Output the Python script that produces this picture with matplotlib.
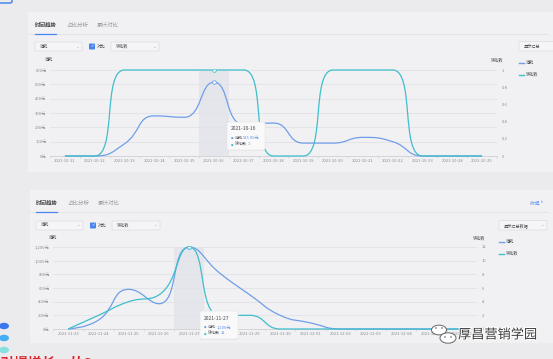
import numpy as np
import matplotlib
matplotlib.use('AGG')
import matplotlib.pyplot as plt
from matplotlib.path import Path
from matplotlib.patches import PathPatch, Rectangle, FancyBboxPatch, Circle
import matplotlib.patheffects as pe

plt.rcParams['font.family'] = ['Noto Sans CJK SC', 'DejaVu Sans']

W, H = 553, 359

# top chart data
dates_top = ['2021-10-11', '2021-10-12', '2021-10-13', '2021-10-14', '2021-10-15',
             '2021-10-16', '2021-10-17', '2021-10-18', '2021-10-19', '2021-10-20',
             '2021-10-21', '2021-10-22', '2021-10-23', '2021-10-24', '2021-10-25']
cost_top = [0, 0, 85, 280, 270, 515.05, 220, 230, 90, 90, 130, 100, 0, 0, 0]
conv_top = [0, 0, 1, 1, 1, 1, 1, 0, 0, 1, 1, 1, 0, 0, 0]
left_ticks_top = [0, 100, 200, 300, 400, 500, 600]
left_labels_top = ['0元', '100元', '200元', '300元', '400元', '500元', '600元']
right_ticks_top = [0, 0.2, 0.4, 0.6, 0.8, 1]
right_labels_top = ['0', '0.2', '0.4', '0.6', '0.8', '1']

# bottom chart data
dates_bot = ['2021-11-23', '2021-11-24', '2021-11-25', '2021-11-26', '2021-11-27',
             '2021-11-28', '2021-11-29', '2021-11-30', '2021-12-01', '2021-12-02',
             '2021-12-03', '2021-12-04', '2021-12-05', '2021-12-06']
cost_bot = [0, 130, 580, 370, 1200, 820, 500, 200, 90, 0, 0, 0, 0, 0]
conv_bot = [0, 2, 4, 5, 12, 2, 2, 0, 0, 0, 0, 0, 0, 0]
left_ticks_bot = [0, 200, 400, 600, 800, 1000, 1200]
left_labels_bot = ['0元', '200元', '400元', '600元', '800元', '1,000元', '1,200元']
right_ticks_bot = [0, 2, 4, 6, 8, 10, 12]
right_labels_bot = ['0', '2', '4', '6', '8', '10', '12']

BLUE = '#6f9ee9'
CYAN = '#3fbecb'
GREY = '#8a8c92'
DARK = '#4a4c52'


def fx(x):
    return x / W


def fy(y):
    return 1 - y / H


def ftext(x, y, s, **kw):
    kw.setdefault('fontsize', 3.4)
    kw.setdefault('color', GREY)
    kw.setdefault('va', 'center')
    fig.text(fx(x), fy(y), s, **kw)


def smooth_line(ax, xs, ys, color, smooth=0.5):
    # echarts style bezier smoothing, done in pixel space
    tr = ax.transData
    pts = tr.transform(np.column_stack([xs, ys]))
    n = len(pts)
    verts = [pts[0]]
    codes = [Path.MOVETO]
    cp0 = pts[0].copy()
    for k in range(1, n):
        x, y = pts[k]
        px, py = pts[k - 1]
        if k == n - 1:
            cp1 = np.array([x, y])
            nxt = None
        else:
            nx_, ny_ = pts[k + 1]
            vx, vy = nx_ - px, ny_ - py
            lp = np.hypot(x - px, y - py)
            ln = np.hypot(nx_ - x, ny_ - y)
            r = ln / (ln + lp)
            ncx = x + vx * smooth * r
            ncy = y + vy * smooth * r
            ncx = max(min(ncx, max(nx_, x)), min(nx_, x))
            ncy = max(min(ncy, max(ny_, y)), min(ny_, y))
            vx, vy = ncx - x, ncy - y
            c1x = x - vx * lp / ln
            c1y = y - vy * lp / ln
            c1x = max(min(c1x, max(px, x)), min(px, x))
            c1y = max(min(c1y, max(py, y)), min(py, y))
            vx, vy = x - c1x, y - c1y
            nxt = np.array([x + vx * ln / lp, y + vy * ln / lp])
            cp1 = np.array([c1x, c1y])
        verts += [cp0, cp1, np.array([x, y])]
        codes += [Path.CURVE4] * 3
        if nxt is not None:
            cp0 = nxt
    verts = tr.inverted().transform(np.array(verts))
    ax.add_patch(PathPatch(Path(verts, codes), fill=False, edgecolor=color,
                           lw=0.9, zorder=3, clip_on=False))


fig = plt.figure(figsize=(W / 100, H / 100), dpi=100)
fig.patch.set_facecolor('#ebebed')

# cards
fig.patches.append(Rectangle((fx(28), fy(172)), fx(525), (172 - 12) / H, transform=fig.transFigure,
                             facecolor='#f1f1f3', edgecolor='none', zorder=-2))
fig.patches.append(Rectangle((fx(30), fy(343)), fx(523), (343 - 190) / H, transform=fig.transFigure,
                             facecolor='#f1f1f3', edgecolor='none', zorder=-2))
# blue box edge top left
fig.patches.append(FancyBboxPatch((fx(-4), fy(3)), fx(16), 6 / H, boxstyle='round,pad=0,rounding_size=0.004',
                                  transform=fig.transFigure, facecolor='none', edgecolor='#3d7cf0', lw=1.0,
                                  zorder=-1))


def header(y_tab, y_ctrl, x0, btn_x0, btn_label, show_fold):
    ftext(x0, y_tab, '时间趋势', fontsize=4.0, color=DARK, fontweight='bold')
    ftext(x0 + 31, y_tab, '占比分析', fontsize=4.0, color='#9a9ca2')
    ftext(x0 + 62, y_tab, '累计对比', fontsize=4.0, color='#9a9ca2')
    fig.add_artist(plt.Line2D([fx(x0 - 6), fx(548)], [fy(y_tab + 9), fy(y_tab + 9)],
                              color='#e2e2e6', lw=0.6, zorder=-1))
    fig.add_artist(plt.Line2D([fx(x0), fx(x0 + 21)], [fy(y_tab + 8.5), fy(y_tab + 8.5)],
                              color='#4a84ef', lw=0.9))
    if show_fold:
        ftext(530, y_tab, '收起 ^', fontsize=3.4, color='#5b8ff0')
    # dropdowns
    for bx, bw, lab in [(x0, 47, '消耗'), (x0 + 76, 48, '转化数')]:
        fig.patches.append(FancyBboxPatch((fx(bx), fy(y_ctrl + 4.5)), bw / W, 9 / H,
                                          boxstyle='round,pad=0,rounding_size=0.002', transform=fig.transFigure,
                                          facecolor='#f5f5f7', edgecolor='#dcdce0', lw=0.5, zorder=-1))
        ftext(bx + 5, y_ctrl, lab, fontsize=3.0, color=DARK)
        ftext(bx + bw - 5, y_ctrl, '⌄', fontsize=3.2, color='#b0b2b8', ha='center', family='DejaVu Sans')
    fig.patches.append(FancyBboxPatch((fx(x0 + 54), fy(y_ctrl + 3)), 6 / W, 6 / H,
                                      boxstyle='round,pad=0,rounding_size=0.002', transform=fig.transFigure,
                                      facecolor='#4a84ef', edgecolor='none', zorder=-1))
    ftext(x0 + 57, y_ctrl, '✓', fontsize=3.2, color='white', ha='center', family='DejaVu Sans')
    ftext(x0 + 62, y_ctrl, '对比', fontsize=3.2, color=DARK)
    fig.patches.append(FancyBboxPatch((fx(btn_x0), fy(y_ctrl + 4.5)), 48 / W, 9.5 / H,
                                      boxstyle='round,pad=0,rounding_size=0.002', transform=fig.transFigure,
                                      facecolor='#f5f5f7', edgecolor='#dcdce0', lw=0.5, zorder=-1))
    ftext(btn_x0 + 5, y_ctrl, btn_label, fontsize=3.0, color=DARK)


header(25, 46.5, 35, 519, '显示汇总', False)
header(203, 225.5, 36, 499, '显示汇总数据', True)
ftext(542, 225.5, '⌄', fontsize=3.2, color='#b0b2b8', ha='center', family='DejaVu Sans')


def chart(box, dates, cost, conv, lt, ll, rt, rl, hover, tip):
    l, t, r, b = box
    ax = fig.add_axes([fx(l), fy(b), (r - l) / W, (b - t) / H])
    n = len(dates)
    ax.set_xlim(-0.5, n - 0.5)
    ax.set_ylim(lt[0], lt[-1])
    ax.set_facecolor('none')
    for s in ['top', 'right', 'left']:
        ax.spines[s].set_visible(False)
    ax.spines['bottom'].set_color('#c9cacf')
    ax.spines['bottom'].set_linewidth(0.5)
    ax.set_yticks(lt)
    ax.set_yticklabels(ll)
    ax.set_xticks(range(n))
    ax.set_xticklabels(dates)
    ax.set_xticks(np.arange(-0.5, n, 1), minor=True)
    ax.tick_params(axis='x', which='major', length=0, labelsize=3.0, labelcolor=GREY, pad=2.2)
    ax.tick_params(axis='x', which='minor', length=1.5, width=0.4, color='#c9cacf')
    ax.tick_params(axis='y', length=0, labelsize=3.0, labelcolor=GREY, pad=2.5)
    ax.grid(axis='y', color='#dedfe3', lw=0.5)
    ax.set_axisbelow(True)
    axr = ax.twinx()
    axr.set_ylim(rt[0], rt[-1])
    axr.set_yticks(rt)
    axr.set_yticklabels(rl)
    axr.tick_params(axis='y', length=0, labelsize=3.0, labelcolor=GREY, pad=3.5)
    for s in axr.spines.values():
        s.set_visible(False)
    # hover shadow
    ax.axvspan(hover - 0.5, hover + 0.5, color='#e2e3e9', alpha=0.75, lw=0, zorder=1)
    xs = np.arange(n)
    smooth_line(ax, xs, cost, BLUE)
    smooth_line(axr, xs, conv, CYAN)
    ax.plot([hover], [cost[hover]], 'o', ms=2.6, mfc='white', mec=BLUE, mew=0.6, zorder=5)
    axr.plot([hover], [conv[hover]], 'o', ms=2.6, mfc='white', mec=CYAN, mew=0.6, zorder=5)
    # tooltip
    tx, ty, cost_txt, conv_txt = tip
    fig.patches.append(FancyBboxPatch((fx(tx), fy(ty + 28)), 38 / W, 28 / H,
                                      boxstyle='round,pad=0,rounding_size=0.004', transform=fig.transFigure,
                                      facecolor='#f9f9fa', edgecolor='#e4e4e8', lw=0.4, zorder=10,
                                      path_effects=[pe.withSimplePatchShadow(offset=(0, -0.5), alpha=0.08)]))
    fig.text(fx(tx + 4), fy(ty + 7), dates[hover], fontsize=3.6, color=DARK, va='center', zorder=11)
    for dy, col, name, val in [(16, BLUE, '消耗', cost_txt), (22.5, CYAN, '转化数', conv_txt)]:
        fig.text(fx(tx + 4), fy(ty + dy), '●', fontsize=2.2, color=col, va='center', zorder=11,
                 family='DejaVu Sans')
        fig.text(fx(tx + 7.5), fy(ty + dy), name, fontsize=2.9, color=DARK, va='center', zorder=11)
        fig.text(fx(tx + 8 + 4.2 * len(name)), fy(ty + dy), val, fontsize=2.9, color='#5b8ff0',
                 va='center', zorder=11)
    return ax


chart((50, 70, 497, 156), dates_top, cost_top, conv_top, left_ticks_top, left_labels_top,
      right_ticks_top, right_labels_top, 5, (227, 122, '515.05元', '1'))
ftext(45, 60, '消耗', fontsize=3.0, color=DARK)
ftext(491, 60, '转化数', fontsize=3.0, color=DARK)
chart((53, 247, 477, 329), dates_bot, cost_bot, conv_bot, left_ticks_bot, left_labels_bot,
      right_ticks_bot, right_labels_bot, 4, (200, 311, '1,200元', '12'))
ftext(49, 238, '消耗', fontsize=3.0, color=DARK)
ftext(473, 238, '转化数', fontsize=3.0, color=DARK)

# legends
for lx, ly in [(519, 63), (499, 242)]:
    for i, (col, lab) in enumerate([(BLUE, '消耗'), (CYAN, '转化数')]):
        yy = ly + i * 11.5
        fig.add_artist(plt.Line2D([fx(lx), fx(lx + 5)], [fy(yy), fy(yy)], color=col, lw=1.0))
        ftext(lx + 7, yy, lab, fontsize=3.0, color=DARK)

# decorations at the bottom left
for cy, col in [(326, '#3a78ef'), (338, '#45aef4'), (350, '#86e0e2')]:
    fig.patches.append(Circle((fx(4), fy(cy)), 5 / W, transform=fig.transFigure, facecolor=col,
                              edgecolor='none'))
fig.text(fx(0), fy(364), '引爆增长，从S', fontsize=10, color='#d6272c', va='center', fontweight='bold')

# watermark
for cx, cy, rr in [(439, 330, 7.5), (448, 338, 8)]:
    fig.patches.append(Circle((fx(cx), fy(cy)), rr / W, transform=fig.transFigure, facecolor='white',
                              edgecolor='#666', lw=0.7, zorder=12))
for ex, ey in [(436, 328), (442, 328), (445, 337), (451, 337)]:
    fig.patches.append(Circle((fx(ex), fy(ey)), 0.9 / W, transform=fig.transFigure, facecolor='#444',
                              edgecolor='none', zorder=13))
fig.text(fx(458), fy(335), '厚昌营销学园', fontsize=9.5, color='#3a3a3a', va='center', zorder=12,
         path_effects=[pe.withStroke(linewidth=1.5, foreground='white')])

plt.savefig('out.png', dpi=100, facecolor=fig.get_facecolor())
